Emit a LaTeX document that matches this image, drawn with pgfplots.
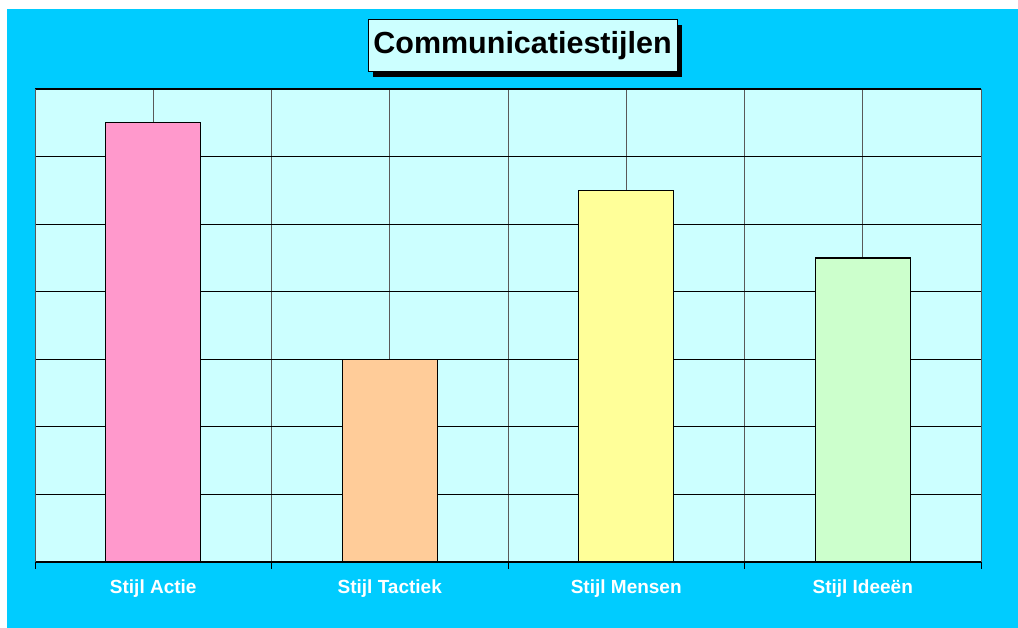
\documentclass[border=0pt]{standalone}
\usepackage{pgfplots}
\pgfplotsset{compat=1.18}
\usepackage{fontspec}
\setmainfont{Liberation Sans}
\usetikzlibrary{shadows}
\definecolor{bgc}{HTML}{00CCFF}
\definecolor{plotbg}{HTML}{CCFFFF}
\definecolor{cpink}{HTML}{FF99CC}
\definecolor{corange}{HTML}{FFCC99}
\definecolor{cyellow}{HTML}{FFFF99}
\definecolor{cgreen}{HTML}{CCFFCC}
\begin{document}%
\begin{tikzpicture}%
\fill[bgc] (-20pt,-20pt) rectangle (1040pt,650pt);
\fill[white] (-20pt,619pt) rectangle (1040pt,650pt);
\fill[white] (-20pt,-20pt) rectangle (7pt,650pt);
\begin{axis}[
  at={(35pt,66pt)}, anchor=south west,
  scale only axis, width=946pt, height=473pt,
  xmin=-0.5, xmax=3.5, ymin=0, ymax=7,
  axis background/.style={fill=plotbg},
  xtick={0,1,2,3},
  xticklabels={Stijl Actie, Stijl Tactiek, Stijl Mensen, Stijl Ideeën},
  minor xtick={-0.5,0.5,1.5,2.5,3.5},
  ytick={0,1,...,7}, yticklabels={},
  xmajorgrids, xminorgrids, ymajorgrids,
  major x grid style={draw=gray!70!black, line width=0.6pt},
  minor x grid style={draw=gray!70!black, line width=0.6pt},
  major y grid style={draw=black, line width=0.8pt},
  tick align=outside,
  xtick pos=left, ytick pos=left,
  major tick length=0pt, minor tick length=7pt,
  minor tick style={draw=black, line width=0.8pt},
  separate axis lines,
  x axis line style={draw=black, line width=1.2pt},
  y axis line style={draw=gray!70!black, line width=0.7pt},
  xticklabel style={text=white, font=\fontsize{19}{22}\selectfont\bfseries, yshift=-14pt},
]
\addplot[ybar, bar shift=0pt, bar width=95pt, fill=cpink, draw=black, line width=1.4pt] coordinates {(0,6.5)};
\addplot[ybar, bar shift=0pt, bar width=95pt, fill=corange, draw=black, line width=1.4pt] coordinates {(1,3.0)};
\addplot[ybar, bar shift=0pt, bar width=95pt, fill=cyellow, draw=black, line width=1.4pt] coordinates {(2,5.5)};
\addplot[ybar, bar shift=0pt, bar width=95pt, fill=cgreen, draw=black, line width=1.4pt] coordinates {(3,4.5)};
\end{axis}
\node[draw=black, line width=1pt, fill=plotbg, minimum width=309pt, minimum height=52pt, inner sep=0pt,
  font=\fontsize{30.5}{34}\selectfont\bfseries,
  drop shadow={shadow xshift=5pt, shadow yshift=-5pt, opacity=1, fill=black}]
  at (522.5pt,582pt) {Communicatiestijlen};
\pgfresetboundingbox
\path[use as bounding box] (0,0) rectangle (1018pt,628pt);
\end{tikzpicture}%
\end{document}
